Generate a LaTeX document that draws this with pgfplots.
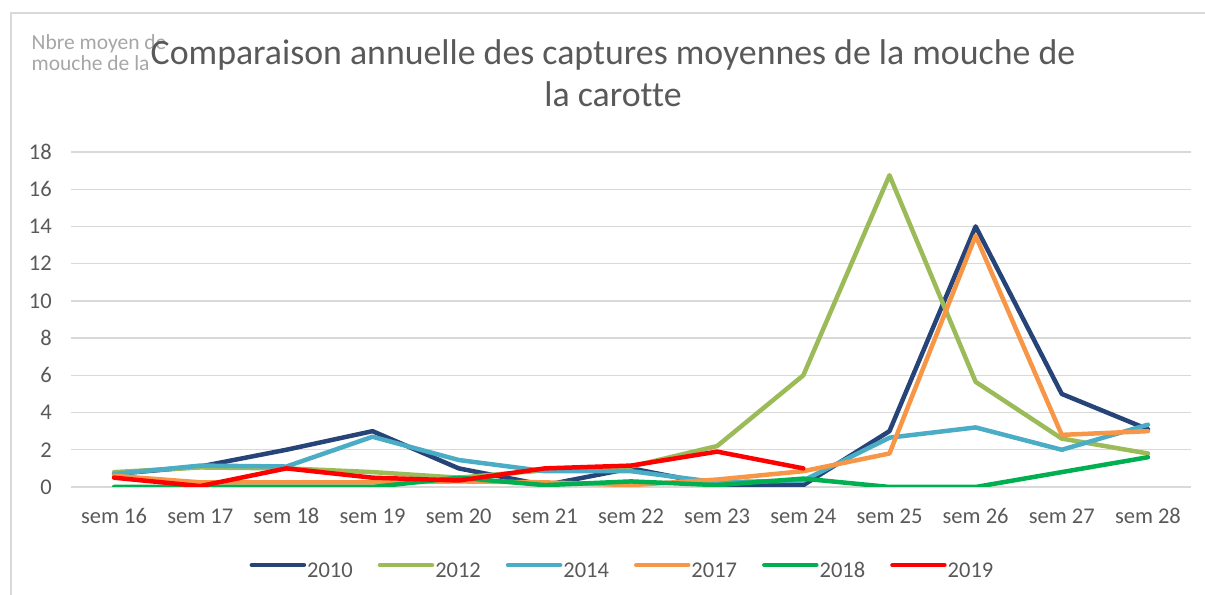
\documentclass[border=0pt]{standalone}
\usepackage{pgfplots}
\usepackage{pgfplotstable}
\pgfplotsset{compat=1.18}
\usepackage{fontspec}
\setmainfont{Carlito}[Ligatures=NoCommon]

\definecolor{c2010}{HTML}{264478}
\definecolor{c2012}{HTML}{9BBB59}
\definecolor{c2014}{HTML}{4BACC6}
\definecolor{c2017}{HTML}{F79646}
\definecolor{c2018}{HTML}{00B050}
\definecolor{c2019}{HTML}{FF0000}
\definecolor{txtgray}{HTML}{595959}
\definecolor{lightgray}{HTML}{A6A6A6}
\definecolor{gridgray}{HTML}{D9D9D9}

% semaines 16..28 -> x = 0..12
\pgfplotstableread{
x  y2010 y2012 y2014 y2017 y2018 y2019
0  0.7   0.8   0.7   0.6   0.0   0.5
1  1.1   1.05  1.15  0.25  0.0   0.05
2  2.0   1.0   1.1   0.25  0.0   1.0
3  3.0   0.8   2.7   0.25  0.0   0.5
4  1.0   0.5   1.45  0.3   0.5   0.35
5  0.1   0.9   0.85  0.25  0.1   1.0
6  1.0   1.1   0.85  0.1   0.3   1.15
7  0.1   2.2   0.25  0.4   0.1   1.9
8  0.1   6.0   0.35  0.85  0.45  1.0
9  3.0   16.75 2.65  1.8   0.0   nan
10 14.0  5.65  3.2   13.5  0.0   nan
11 5.0   2.6   2.0   2.8   0.8   nan
12 3.1   1.8   3.35  3.0   1.6   nan
}\captures

\begin{document}
\begin{tikzpicture}[x=1bp,y=1bp]
\path[use as bounding box] (0,0) rectangle (1205,595);
% cadre du graphique
\draw[gridgray, line width=1.5bp] (11,0) -- (11,582) -- (1205,582);

\node[anchor=base west, text=lightgray, font=\fontsize{21.5bp}{21bp}\selectfont, inner sep=0]
  at (31.5,545) {Nbre moyen de};
\node[anchor=base west, text=lightgray, font=\fontsize{21.5bp}{21bp}\selectfont, inner sep=0]
  at (31.5,524) {mouche de la};

\node[anchor=base, text=txtgray, font=\fontsize{35.8bp}{40bp}\selectfont, inner sep=0]
  at (613,530) {Comparaison annuelle des captures moyennes de la mouche de};
\node[anchor=base, text=txtgray, font=\fontsize{35.8bp}{40bp}\selectfont, inner sep=0]
  at (613,488.5) {la carotte};

\begin{axis}[
    at={(71bp,108bp)}, anchor=south west,
    scale only axis,
    width=1120bp, height=335bp,
    xmin=-0.5, xmax=12.5,
    ymin=0, ymax=18,
    xtick={0,...,12},
    xticklabels={sem 16,sem 17,sem 18,sem 19,sem 20,sem 21,sem 22,sem 23,sem 24,sem 25,sem 26,sem 27,sem 28},
    ytick={0,2,...,18},
    ymajorgrids,
    grid style={gridgray, line width=1.3bp},
    axis line style={draw=none},
    major tick length=0pt,
    tick label style={text=txtgray, font=\fontsize{22.5bp}{27bp}\selectfont, inner sep=0},
    xticklabel style={anchor=base, yshift=-37bp},
    yticklabel style={anchor=east, xshift=-19bp},
    /pgf/number format/assume math mode=true,
    every axis plot/.append style={line width=4.5bp, line join=round, line cap=round},
    legend columns=6,
    legend style={at={(0.4915,-0.248)}, anchor=center, draw=none, fill=none,
        font=\fontsize{22.5bp}{27bp}\selectfont, text=txtgray,
        nodes={inner sep=0pt, text depth=0pt, text height=15bp},
        /tikz/every odd column/.append style={column sep=1bp},
        /tikz/every even column/.append style={column sep=25bp},
        inner sep=0},
    legend image code/.code={\draw[#1] (0bp,5bp) -- (52bp,5bp);},
]
\addplot[c2010] table[x=x, y=y2010] {\captures};
\addlegendentry{2010}
\addplot[c2012] table[x=x, y=y2012] {\captures};
\addlegendentry{2012}
\addplot[c2014] table[x=x, y=y2014] {\captures};
\addlegendentry{2014}
\addplot[c2017] table[x=x, y=y2017] {\captures};
\addlegendentry{2017}
\addplot[c2018] table[x=x, y=y2018] {\captures};
\addlegendentry{2018}
\addplot[c2019] table[x=x, y=y2019] {\captures};
\addlegendentry{2019}
\end{axis}
\end{tikzpicture}
\end{document}
